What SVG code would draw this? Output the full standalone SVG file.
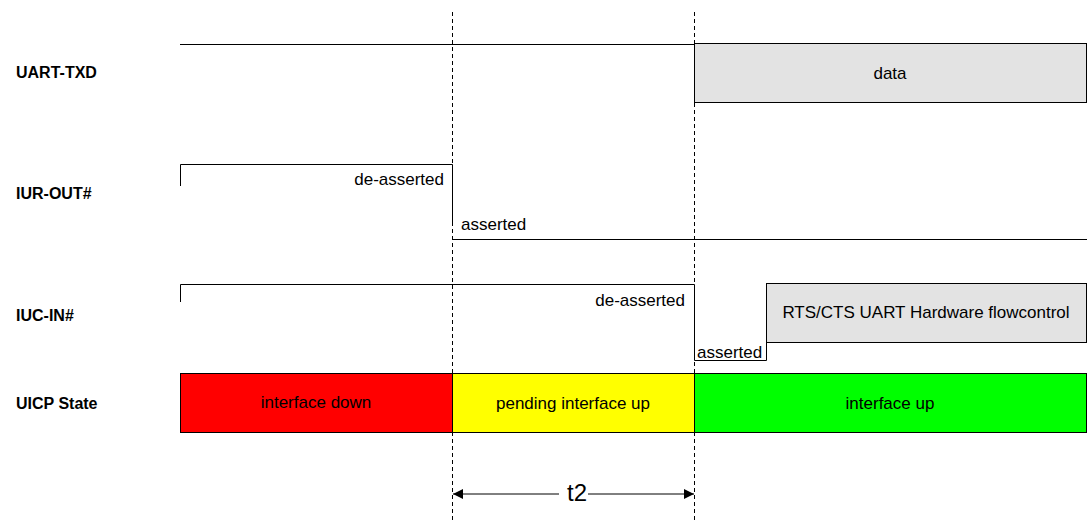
<svg xmlns="http://www.w3.org/2000/svg" width="1091" height="523" viewBox="0 0 1091 523">
<style>
.lbl{font-family:"Liberation Sans",Arial,sans-serif;font-size:16px;font-weight:bold;fill:#000}
.t{font-family:"Liberation Sans",Arial,sans-serif;font-size:17px;fill:#000}
.sig{fill:none;stroke:#000;stroke-width:1}
.box{stroke:#000;stroke-width:1}
.dash{stroke:#000;stroke-width:1;stroke-dasharray:4,3;fill:none}
</style>
<defs>
<marker id="ah" viewBox="0 0 10 10" refX="10" refY="5" markerWidth="10" markerHeight="10" markerUnits="userSpaceOnUse" orient="auto-start-reverse">
<path d="M0,0 L10,5 L0,10 z" fill="#000"/>
</marker>
</defs>
<rect width="1091" height="523" fill="#fff"/>
<g id="labels">
<text class="lbl" x="16" y="78">UART-TXD</text>
<text class="lbl" x="16" y="199">IUR-OUT#</text>
<text class="lbl" x="16" y="321">IUC-IN#</text>
<text class="lbl" x="16" y="409">UICP State</text>
</g>
<g id="uart-txd">
<path class="sig" d="M180,44.5 H694.5"/>
<rect id="data" class="box" x="694.5" y="43.5" width="392" height="59" fill="#e3e3e3"/>
<text class="t" x="890" y="79" text-anchor="middle">data</text>
</g>
<g id="iur-out">
<path class="sig" d="M180.5,186 V164.5 H452.5 V222"/>
<path class="sig" d="M452.5,239.5 H1087"/>
<text class="t" x="444" y="185" text-anchor="end">de-asserted</text>
<text class="t" x="461" y="230">asserted</text>
</g>
<g id="iuc-in">
<path class="sig" d="M180.5,302 V284.5 H694.5 V360.5 H766.5 V343"/>
<rect id="rts" class="box" x="766.5" y="283.5" width="320" height="59" fill="#e3e3e3"/>
<text class="t" x="926" y="318" text-anchor="middle">RTS/CTS UART Hardware flowcontrol</text>
<text class="t" x="685" y="306" text-anchor="end">de-asserted</text>
<text class="t" x="697" y="358">asserted</text>
</g>
<g id="uicp-state">
<rect id="down" class="box" x="180.5" y="373.5" width="272" height="59" fill="#ff0000"/>
<text class="t" x="316" y="408" text-anchor="middle">interface down</text>
<rect id="pending" class="box" x="452.5" y="373.5" width="242" height="59" fill="#ffff00"/>
<text class="t" x="573" y="409" text-anchor="middle">pending interface up</text>
<rect id="up" class="box" x="694.5" y="373.5" width="392" height="59" fill="#00ff00"/>
<text class="t" x="890" y="409" text-anchor="middle">interface up</text>
</g>
<g id="connectors">
<path class="dash" d="M452.5,12 V523"/>
<path class="dash" d="M694.5,12 V523"/>
<path class="sig" d="M453,494 H559" marker-start="url(#ah)"/>
<path class="sig" d="M588,494 H694" marker-end="url(#ah)"/>
<text class="t" x="577" y="501" text-anchor="middle" style="font-size:24px">t2</text>
</g>
</svg>
